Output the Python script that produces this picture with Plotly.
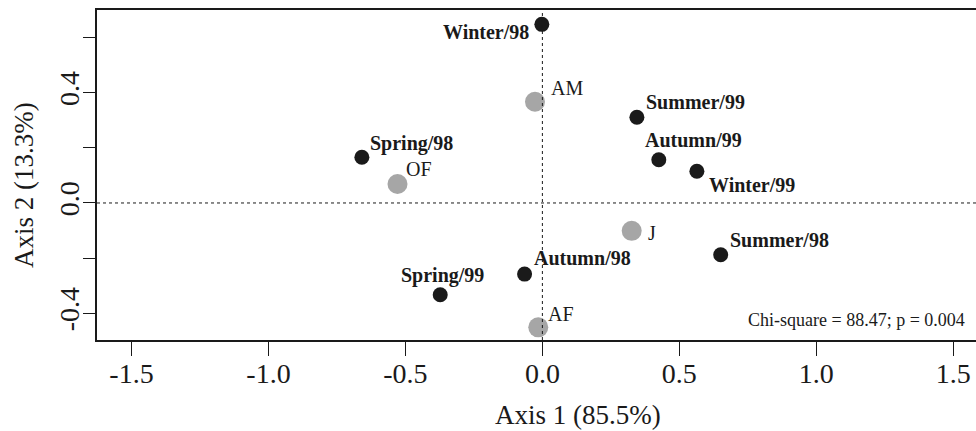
import plotly.graph_objects as go

# Row points (seasons)
season_labels = ["Winter/98", "Summer/99", "Autumn/99", "Winter/99", "Spring/98",
                 "Summer/98", "Autumn/98", "Spring/99"]
season_x = [-0.002, 0.345, 0.425, 0.564, -0.659, 0.651, -0.065, -0.373]
season_y = [0.648, 0.311, 0.157, 0.115, 0.166, -0.188, -0.258, -0.333]

# Column points (categories)
cat_labels = ["AM", "OF", "J", "AF"]
cat_x = [-0.027, -0.529, 0.326, -0.015]
cat_y = [0.367, 0.069, -0.101, -0.451]

x_ticks = [-1.5, -1.0, -0.5, 0.0, 0.5, 1.0, 1.5]
x_ticktext = ["-1.5", "-1.0", "-0.5", "0.0", "0.5", "1.0", "1.5"]
y_ticks = [-0.4, -0.2, 0.0, 0.2, 0.4, 0.6]
y_ticktext = ["-0.4", "", "0.0", "", "0.4", ""]

x_title = "Axis 1 (85.5%)"
y_title = "Axis 2 (13.3%)"
note = "Chi-square = 88.47; p = 0.004"

# label placement (anchor, xshift px, yshift px)
season_pos = {
    "Winter/98": ("right", -11, -8),
    "Summer/99": ("left", 7, 15),
    "Autumn/99": ("left", -16, 20),
    "Winter/99": ("left", 10, -14),
    "Spring/98": ("left", 6, 14),
    "Summer/98": ("left", 7, 15),
    "Autumn/98": ("left", 7, 16),
    "Spring/99": ("center", 2, 19),
}
cat_pos = {
    "AM": ("left", 14, 14),
    "OF": ("left", 7, 15),
    "J": ("left", 14, -2),
    "AF": ("left", 8, 13),
}

FONT = "Liberation Serif, Times New Roman, serif"
DARK = "#1a1a1a"
GREY = "#a6a6a6"

fig = go.Figure()
fig.add_trace(go.Scatter(x=cat_x, y=cat_y, mode="markers",
                         marker=dict(size=20, color=GREY, line=dict(width=0)),
                         hoverinfo="skip", showlegend=False))
fig.add_trace(go.Scatter(x=season_x, y=season_y, mode="markers",
                         marker=dict(size=15, color=DARK, line=dict(width=0)),
                         hoverinfo="skip", showlegend=False))

annotations = []
for lab, x, y in zip(season_labels, season_x, season_y):
    a, dx, dy = season_pos[lab]
    annotations.append(dict(x=x, y=y, xref="x", yref="y", text="<b>" + lab + "</b>",
                            showarrow=False, xanchor=a, yanchor="middle",
                            xshift=dx, yshift=dy,
                            font=dict(family=FONT, size=20, color=DARK)))
for lab, x, y in zip(cat_labels, cat_x, cat_y):
    a, dx, dy = cat_pos[lab]
    annotations.append(dict(x=x, y=y, xref="x", yref="y", text=lab,
                            showarrow=False, xanchor=a, yanchor="middle",
                            xshift=dx, yshift=dy,
                            font=dict(family=FONT, size=20, color=DARK)))
annotations.append(dict(x=1.0, y=0.0, xref="paper", yref="paper", text=note,
                        showarrow=False, xanchor="right", yanchor="bottom",
                        xshift=-9, yshift=8,
                        font=dict(family=FONT, size=18, color=DARK)))
# axis titles (the original plot region extends beyond the right edge)
annotations.append(dict(x=0.547, y=0.0, xref="paper", yref="paper", text=x_title,
                        showarrow=False, xanchor="center", yanchor="middle",
                        yshift=-75, font=dict(family=FONT, size=27, color=DARK)))
annotations.append(dict(x=0.0, y=0.5, xref="paper", yref="paper", text=y_title,
                        showarrow=False, xanchor="center", yanchor="middle",
                        xshift=-73, yshift=-10, textangle=-90,
                        font=dict(family=FONT, size=27, color=DARK)))

shapes = [
    dict(type="line", xref="x", yref="paper", x0=0, x1=0, y0=0, y1=1,
         line=dict(color=DARK, width=1, dash="dot")),
    dict(type="line", xref="paper", yref="y", x0=0, x1=1, y0=0, y1=0,
         line=dict(color=DARK, width=1, dash="dot")),
]

fig.update_layout(
    width=976, height=431,
    margin=dict(l=97, r=0, t=10, b=91),
    paper_bgcolor="white", plot_bgcolor="white",
    font=dict(family=FONT, color=DARK),
    annotations=annotations, shapes=shapes,
    xaxis=dict(range=[-1.626, 1.583], tickvals=x_ticks, ticktext=x_ticktext,
               showgrid=False, zeroline=False, showline=True, mirror=True,
               linecolor=DARK, linewidth=1.5, ticks="outside", ticklen=14,
               tickwidth=1.2, tickcolor=DARK, tickfont=dict(size=28),
               ticklabelstandoff=-6),
    yaxis=dict(range=[-0.497, 0.700], tickvals=y_ticks, ticktext=y_ticktext,
               showgrid=False, zeroline=False, showline=True, mirror=False,
               linecolor=DARK, linewidth=1.5, ticks="outside", ticklen=12,
               tickwidth=1.2, tickcolor=DARK, tickfont=dict(size=28),
               tickangle=-90, ticklabelstandoff=-7),
)

fig.write_html("out.html")
